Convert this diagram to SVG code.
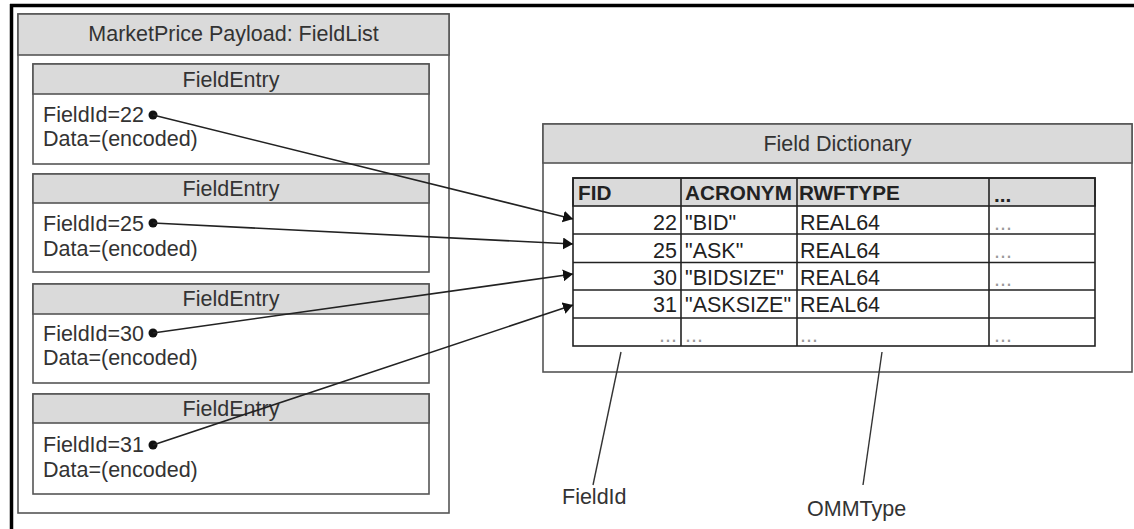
<svg xmlns="http://www.w3.org/2000/svg" width="1134" height="529" viewBox="0 0 1134 529">
<defs>
<style>
text{font-family:"Liberation Sans",Arial,sans-serif;font-size:21.5px;fill:#333}
.box{fill:#fff;stroke:#555;stroke-width:1.6}
.hdr{fill:#dadada;stroke:#555;stroke-width:1.6}
.tbl{fill:none;stroke:#222;stroke-width:1.6}
.th{fill:#dadada;stroke:#222;stroke-width:1.6}
.b{font-weight:bold;fill:#222;font-size:20.7px}
.c{text-anchor:middle}
.r{text-anchor:end}
.d{fill:#222}
.g{fill:#999}
.con{stroke:#222;stroke-width:1.6;fill:none}
.ann{stroke:#333;stroke-width:1.4;fill:none}
</style>
<marker id="arr" viewBox="0 0 10 12" refX="10" refY="6" markerWidth="10" markerHeight="12" markerUnits="userSpaceOnUse" orient="auto">
<path d="M0,0 L10,6 L0,12 z" fill="#111"/>
</marker>
</defs>
<rect width="1134" height="529" fill="#fff"/>
<g id="frame">
<line x1="10" y1="5.5" x2="1134" y2="5.5" stroke="#000" stroke-width="3.5"/>
<line x1="11.5" y1="4" x2="11.5" y2="529" stroke="#000" stroke-width="3.5"/>
</g>
<g id="fieldlist">
<rect class="box" x="18" y="14" width="431" height="499"/>
<rect class="hdr" x="18" y="14" width="431" height="41"/>
<text class="c" x="233.5" y="41">MarketPrice Payload: FieldList</text>
</g>
<g id="entry1">
<rect class="box" x="33" y="64" width="396" height="100"/>
<rect class="hdr" x="33" y="64" width="396" height="30"/>
<text class="c" x="231" y="87">FieldEntry</text>
<text x="43" y="122">FieldId=22</text>
<text x="43" y="146">Data=(encoded)</text>
</g>
<g id="entry2">
<rect class="box" x="33" y="174" width="396" height="98"/>
<rect class="hdr" x="33" y="174" width="396" height="29"/>
<text class="c" x="231" y="196">FieldEntry</text>
<text x="43" y="231">FieldId=25</text>
<text x="43" y="256">Data=(encoded)</text>
</g>
<g id="entry3">
<rect class="box" x="33" y="284" width="396" height="99"/>
<rect class="hdr" x="33" y="284" width="396" height="30"/>
<text class="c" x="231" y="306">FieldEntry</text>
<text x="43" y="341">FieldId=30</text>
<text x="43" y="365">Data=(encoded)</text>
</g>
<g id="entry4">
<rect class="box" x="33" y="394" width="396" height="100"/>
<rect class="hdr" x="33" y="394" width="396" height="29"/>
<text class="c" x="231" y="416">FieldEntry</text>
<text x="43" y="452">FieldId=31</text>
<text x="43" y="477">Data=(encoded)</text>
</g>
<g id="dictionary">
<rect class="box" x="543" y="124" width="589" height="248"/>
<rect class="hdr" x="543" y="124" width="589" height="39"/>
<text class="c" x="837.5" y="151">Field Dictionary</text>
<rect class="th" x="573" y="178" width="522" height="28"/>
<rect class="tbl" x="573" y="178" width="522" height="168"/>
<line class="tbl" x1="573" y1="234" x2="1095" y2="234"/>
<line class="tbl" x1="573" y1="262.5" x2="1095" y2="262.5"/>
<line class="tbl" x1="573" y1="290" x2="1095" y2="290"/>
<line class="tbl" x1="573" y1="318" x2="1095" y2="318"/>
<line class="tbl" x1="681" y1="178" x2="681" y2="346"/>
<line class="tbl" x1="797" y1="178" x2="797" y2="346"/>
<line class="tbl" x1="989" y1="178" x2="989" y2="346"/>
<text class="b" x="578" y="200">FID</text>
<text class="b" x="685" y="200">ACRONYM</text>
<text class="b" x="799" y="200">RWFTYPE</text>
<text class="b" x="994" y="202">...</text>
<text class="r d" x="677" y="230">22</text>
<text class="d" x="685" y="230">"BID"</text>
<text class="d" x="800" y="230">REAL64</text>
<text class="g" x="994" y="230">...</text>
<text class="r d" x="677" y="258">25</text>
<text class="d" x="685" y="258">"ASK"</text>
<text class="d" x="800" y="258">REAL64</text>
<text class="g" x="994" y="258">...</text>
<text class="r d" x="677" y="285">30</text>
<text class="d" x="685" y="285">"BIDSIZE"</text>
<text class="d" x="800" y="285">REAL64</text>
<text class="g" x="994" y="286">...</text>
<text class="r d" x="677" y="312">31</text>
<text class="d" x="685" y="312">"ASKSIZE"</text>
<text class="d" x="800" y="312">REAL64</text>
<text class="g r" x="677" y="342">...</text>
<text class="g" x="685" y="342">...</text>
<text class="g" x="800" y="342">...</text>
<text class="g" x="994" y="342">...</text>
</g>
<g id="labels">
<text x="562" y="504">FieldId</text>
<text x="807" y="516">OMMType</text>
</g>
<g id="connectors">
<circle cx="153" cy="115" r="4.5" fill="#111"/>
<circle cx="153" cy="223" r="4.5" fill="#111"/>
<circle cx="153" cy="333" r="4.5" fill="#111"/>
<circle cx="153" cy="445" r="4.5" fill="#111"/>
<line class="con" x1="153" y1="115" x2="573" y2="219" marker-end="url(#arr)"/>
<line class="con" x1="153" y1="223" x2="573" y2="244" marker-end="url(#arr)"/>
<line class="con" x1="153" y1="333" x2="573" y2="274" marker-end="url(#arr)"/>
<line class="con" x1="153" y1="445" x2="573" y2="305" marker-end="url(#arr)"/>
<line class="ann" x1="621" y1="352" x2="593" y2="485"/>
<line class="ann" x1="882" y1="352" x2="863" y2="485"/>
</g>
</svg>
